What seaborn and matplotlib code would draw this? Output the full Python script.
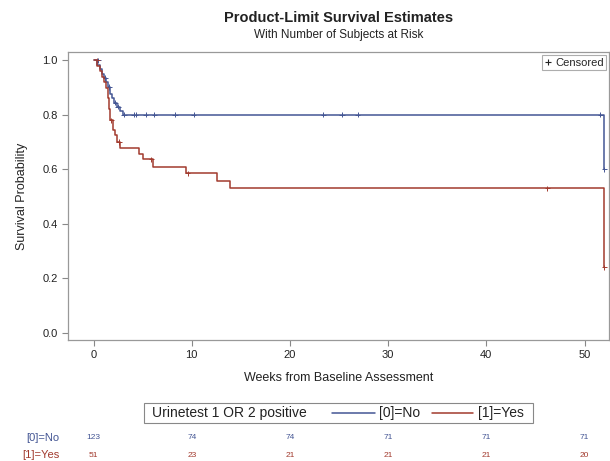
import numpy as np
import pandas as pd
import matplotlib
matplotlib.use("Agg")
import matplotlib.pyplot as plt
import matplotlib.transforms as mtransforms
from matplotlib.lines import Line2D
from matplotlib.patches import Rectangle
import seaborn as sns

# Kaplan-Meier step values (weeks, survival)
no_times = [0, 0.4, 0.7, 0.9, 1.1, 1.3, 1.5, 1.7, 1.9, 2.1, 2.4, 2.7, 3.0, 52.0]
no_surv = [1.0, 0.984, 0.968, 0.951, 0.935, 0.919, 0.902, 0.878, 0.862, 0.845, 0.829, 0.813, 0.80, 0.60]
yes_times = [0, 0.4, 0.7, 0.9, 1.1, 1.3, 1.5, 1.6, 1.7, 2.0, 2.2, 2.4, 2.7, 4.6, 5.0, 6.1, 9.4, 12.6, 13.9, 52.0]
yes_surv = [1.0, 0.98, 0.96, 0.94, 0.92, 0.90, 0.86, 0.82, 0.78, 0.745, 0.725, 0.70, 0.678,
            0.655, 0.637, 0.608, 0.586, 0.557, 0.53, 0.24]

# censored observations
no_cens_t = [0.5, 1.2, 1.6, 2.2, 2.5, 3.1, 4.1, 4.3, 5.3, 6.2, 8.3, 10.2, 23.4, 25.3, 26.9, 51.6, 52.0]
no_cens_s = [1.0, 0.935, 0.902, 0.845, 0.829, 0.80, 0.80, 0.80, 0.80, 0.80, 0.80, 0.80, 0.80, 0.80, 0.80, 0.80, 0.60]
yes_cens_t = [0.4, 1.8, 2.6, 5.9, 9.6, 46.2, 52.0]
yes_cens_s = [1.0, 0.78, 0.70, 0.637, 0.586, 0.53, 0.24]

# numbers at risk
risk_weeks = [0, 10, 20, 30, 40, 50]
risk_no = [123, 74, 74, 71, 71, 71]
risk_yes = [51, 23, 21, 21, 21, 20]

groups = ["[0]=No", "[1]=Yes"]
blue = "#445694"
red = "#A23A2E"
palette = {groups[0]: blue, groups[1]: red}

curves = pd.concat([
    pd.DataFrame({"week": no_times, "surv": no_surv, "grp": groups[0]}),
    pd.DataFrame({"week": yes_times, "surv": yes_surv, "grp": groups[1]}),
])
cens = pd.concat([
    pd.DataFrame({"week": no_cens_t, "surv": no_cens_s, "grp": groups[0]}),
    pd.DataFrame({"week": yes_cens_t, "surv": yes_cens_s, "grp": groups[1]}),
])

sns.set_theme(style="white")
plt.rcParams["font.family"] = ["Liberation Sans", "DejaVu Sans"]

fig = plt.figure(figsize=(6.1, 4.61), dpi=100)
ax = fig.add_axes([0.1115, 0.2625, 0.887, 0.6245])

sns.lineplot(data=curves, x="week", y="surv", hue="grp", palette=palette,
             drawstyle="steps-post", estimator=None, sort=False, linewidth=1.1,
             legend=False, ax=ax)
sns.scatterplot(data=cens, x="week", y="surv", hue="grp", palette=palette,
                marker="+", s=14, linewidth=0.7, legend=False, ax=ax)

ax.set_xlim(-2.6, 52.5)
ax.set_ylim(-0.026, 1.03)
ax.set_xticks(risk_weeks)
ax.set_yticks([0.0, 0.2, 0.4, 0.6, 0.8, 1.0])
ax.set_yticklabels(["0.0", "0.2", "0.4", "0.6", "0.8", "1.0"])
ax.tick_params(axis="both", direction="out", length=4, width=0.8, color="#888888",
               labelsize=8, labelcolor="#222222", bottom=True, left=True)
for sp in ax.spines.values():
    sp.set_color("#999999")
    sp.set_linewidth(0.9)
ax.set_xlabel("Weeks from Baseline Assessment", fontsize=9, color="#222222", labelpad=8)
ax.set_ylabel("Survival Probability", fontsize=9, color="#222222", labelpad=10)

# censored legend
cens_handle = Line2D([], [], marker="+", color="#222222", linestyle="none", markersize=5,
                     markeredgewidth=0.8)
leg = ax.legend([cens_handle], ["Censored"], loc="upper right", fontsize=8,
                handlelength=0.6, handletextpad=0.3, borderpad=0.25,
                borderaxespad=0.25, fancybox=False, frameon=True)
leg.get_frame().set_edgecolor("#999999")
leg.get_frame().set_linewidth(0.8)

# titles
fig.text(0.555, 0.96, "Product-Limit Survival Estimates", ha="center", va="center",
         fontsize=10.5, fontweight="bold", color="#222222")
fig.text(0.555, 0.924, "With Number of Subjects at Risk", ha="center", va="center",
         fontsize=8.5, color="#222222")

# group legend box below axis label
fig.patches.append(Rectangle((0.236, 0.0824), 0.638, 0.0434, transform=fig.transFigure,
                             facecolor="white", edgecolor="#888888", linewidth=0.8))
ly = 0.104
fig.text(0.249, ly, "Urinetest 1 OR 2 positive", ha="left", va="center", fontsize=10, color="#222222")
fig.lines.append(Line2D([0.544, 0.615], [ly, ly], transform=fig.transFigure, color=blue, linewidth=1.1))
fig.text(0.621, ly, groups[0], ha="left", va="center", fontsize=10, color="#222222")
fig.lines.append(Line2D([0.708, 0.775], [ly, ly], transform=fig.transFigure, color=red, linewidth=1.1))
fig.text(0.783, ly, groups[1], ha="left", va="center", fontsize=10, color="#222222")

# at-risk table
trans = mtransforms.blended_transform_factory(ax.transData, fig.transFigure)
row_y = [0.05, 0.013]
fig.text(0.098, row_y[0], groups[0], ha="right", va="center", fontsize=8, color=blue)
fig.text(0.098, row_y[1], groups[1], ha="right", va="center", fontsize=8, color=red)
for w, a, b in zip(risk_weeks, risk_no, risk_yes):
    ax.text(w, row_y[0], str(a), transform=trans, ha="center", va="center", fontsize=6, color=blue, clip_on=False)
    ax.text(w, row_y[1], str(b), transform=trans, ha="center", va="center", fontsize=6, color=red, clip_on=False)

fig.savefig("out.png", dpi=100)
